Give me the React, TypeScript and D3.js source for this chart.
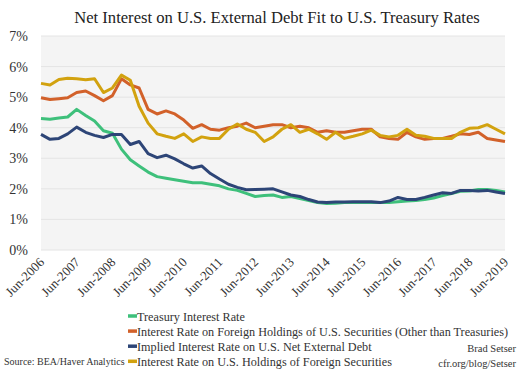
import * as d3 from "d3";
import { useRef, useEffect } from "react";

const quarters = [
  "2006-06", "2006-09", "2006-12", "2007-03", "2007-06", "2007-09", "2007-12", "2008-03",
  "2008-06", "2008-09", "2008-12", "2009-03", "2009-06", "2009-09", "2009-12", "2010-03",
  "2010-06", "2010-09", "2010-12", "2011-03", "2011-06", "2011-09", "2011-12", "2012-03",
  "2012-06", "2012-09", "2012-12", "2013-03", "2013-06", "2013-09", "2013-12", "2014-03",
  "2014-06", "2014-09", "2014-12", "2015-03", "2015-06", "2015-09", "2015-12", "2016-03",
  "2016-06", "2016-09", "2016-12", "2017-03", "2017-06", "2017-09", "2017-12", "2018-03",
  "2018-06", "2018-09", "2018-12", "2019-03", "2019-06",
];

const treasury = [
  4.3, 4.28, 4.32, 4.35, 4.6, 4.4, 4.22, 3.9, 3.82, 3.3, 2.95, 2.75, 2.55, 2.4, 2.35, 2.3,
  2.25, 2.2, 2.2, 2.15, 2.1, 2.0, 1.95, 1.85, 1.75, 1.78, 1.8, 1.72, 1.75, 1.68, 1.62, 1.55,
  1.52, 1.53, 1.55, 1.55, 1.55, 1.55, 1.55, 1.55, 1.58, 1.6, 1.62, 1.65, 1.7, 1.78, 1.85, 1.92,
  1.93, 1.98, 1.98, 1.95, 1.9,
];

const foreignHoldings = [
  4.98, 4.92, 4.95, 4.98, 5.15, 5.2, 5.05, 4.88, 5.05, 5.6, 5.4, 5.3, 4.6, 4.45, 4.55, 4.45,
  4.25, 3.98, 4.1, 3.95, 3.92, 4.0, 4.05, 4.15, 4.0, 4.05, 4.1, 4.1, 4.0, 4.05, 4.0, 3.85,
  3.9, 3.85, 3.85, 3.9, 3.95, 3.95, 3.7, 3.65, 3.62, 3.85, 3.7, 3.62, 3.65, 3.65, 3.72, 3.8,
  3.78, 3.85, 3.65, 3.6, 3.55,
];

const implied = [
  3.78, 3.62, 3.65, 3.8, 4.02, 3.85, 3.75, 3.68, 3.78, 3.78, 3.45, 3.55, 3.15, 3.02, 3.1, 2.98,
  2.82, 2.68, 2.75, 2.5, 2.32, 2.15, 2.05, 1.97, 1.98, 1.99, 2.0, 1.9, 1.8, 1.75, 1.65, 1.57,
  1.55, 1.57, 1.57, 1.58, 1.58, 1.58, 1.55, 1.6, 1.72, 1.65, 1.65, 1.72, 1.8, 1.87, 1.85, 1.95,
  1.95, 1.93, 1.95, 1.9, 1.85,
];

const usHoldings = [
  5.45, 5.4, 5.58, 5.62, 5.6, 5.57, 5.6, 5.15, 5.3, 5.72, 5.55, 4.7, 4.15, 3.8, 3.72, 3.65,
  3.8, 3.55, 3.7, 3.65, 3.65, 3.95, 4.12, 3.95, 3.85, 3.55, 3.7, 3.95, 4.1, 3.85, 3.95, 3.8,
  3.62, 3.85, 3.65, 3.72, 3.8, 3.92, 3.75, 3.7, 3.75, 3.95, 3.75, 3.72, 3.65, 3.65, 3.65, 3.85,
  3.98, 4.0, 4.1, 3.95, 3.8,
];

const seriesNames = [
  "Treasury Interest Rate",
  "Interest Rate on Foreign Holdings of U.S. Securities (Other than Treasuries)",
  "Implied Interest Rate on U.S. Net External Debt",
  "Interest Rate on U.S. Holdings of Foreign Securities",
];
const seriesColors = ["#3ec07b", "#d2612a", "#2d4577", "#d2a20f"];
// drawing order: later ones sit on top
const drawOrder = [0, 2, 1, 3];

const yTicks = [0, 1, 2, 3, 4, 5, 6, 7];
const xTickLabels = [
  "Jun-2006", "Jun-2007", "Jun-2008", "Jun-2009", "Jun-2010", "Jun-2011", "Jun-2012",
  "Jun-2013", "Jun-2014", "Jun-2015", "Jun-2016", "Jun-2017", "Jun-2018", "Jun-2019",
];

const serif = "'Liberation Serif', 'DejaVu Serif', serif";

const App = () => {
  const svgRef = useRef<SVGSVGElement | null>(null);

  useEffect(() => {
    const width = 520;
    const height = 374;
    const margin = { left: 41, right: 15, top: 36, bottom: 124 };
    const innerW = width - margin.left - margin.right;
    const innerH = height - margin.top - margin.bottom;

    const root = d3.select(svgRef.current);
    root.selectAll("*").remove();

    const parse = d3.timeParse("%Y-%m");
    const dates = quarters.map((q) => parse(q) as Date);
    const all = [treasury, foreignHoldings, implied, usHoldings];

    const x = d3.scaleTime()
      .domain([dates[0], dates[dates.length - 1]])
      .range([0, innerW]);
    const y = d3.scaleLinear().domain([0, 7]).range([innerH, 0]);

    root.append("text")
      .attr("x", 277)
      .attr("y", 23)
      .attr("text-anchor", "middle")
      .style("font-family", serif)
      .style("font-size", "16.6px")
      .attr("fill", "#222")
      .text("Net Interest on U.S. External Debt Fit to U.S. Treasury Rates");

    const g = root.append("g").attr("transform", `translate(${margin.left},${margin.top})`);

    g.append("rect")
      .attr("width", innerW)
      .attr("height", innerH)
      .attr("fill", "#f4f4f4");

    g.selectAll(".grid")
      .data(yTicks)
      .join("line")
      .attr("x1", 0)
      .attr("x2", innerW)
      .attr("y1", (d) => y(d))
      .attr("y2", (d) => y(d))
      .attr("stroke", "#e4e4e4")
      .attr("stroke-width", 1);

    g.selectAll(".ylab")
      .data(yTicks)
      .join("text")
      .attr("x", -13)
      .attr("y", (d) => y(d) + 5)
      .attr("text-anchor", "end")
      .style("font-family", serif)
      .style("font-size", "14px")
      .attr("fill", "#333")
      .text((d) => `${d}%`);

    const tickDates = xTickLabels.map((_, i) => dates[i * 4]);
    g.selectAll(".xlab")
      .data(tickDates)
      .join("text")
      .attr("transform", (d) => `translate(${x(d) + 4},${innerH + 13}) rotate(-45)`)
      .attr("text-anchor", "end")
      .style("font-family", serif)
      .style("font-size", "13px")
      .attr("fill", "#333")
      .text((_, i) => xTickLabels[i]);

    const line = d3.line<number>()
      .x((_, i) => x(dates[i]))
      .y((d) => y(d));

    drawOrder.forEach((k) => {
      g.append("path")
        .datum(all[k])
        .attr("fill", "none")
        .attr("stroke", seriesColors[k])
        .attr("stroke-width", 3)
        .attr("stroke-linejoin", "round")
        .attr("d", line);
    });

    const legend = root.append("g").attr("transform", "translate(128,316)");
    seriesNames.forEach((name, i) => {
      const row = legend.append("g").attr("transform", `translate(0,${i * 15.1})`);
      row.append("line")
        .attr("x1", 0)
        .attr("x2", 9)
        .attr("stroke", seriesColors[i])
        .attr("stroke-width", 3.5);
      row.append("text")
        .attr("x", 9)
        .attr("y", 4.5)
        .style("font-family", serif)
        .style("font-size", "12.2px")
        .attr("fill", "#333")
        .text(name);
    });

    root.append("text")
      .attr("x", 4)
      .attr("y", 365)
      .style("font-family", serif)
      .style("font-size", "10px")
      .attr("fill", "#333")
      .text("Source: BEA/Haver Analytics");

    root.append("text")
      .attr("x", 516)
      .attr("y", 352)
      .attr("text-anchor", "end")
      .style("font-family", serif)
      .style("font-size", "10.5px")
      .attr("fill", "#333")
      .text("Brad Setser");

    root.append("text")
      .attr("x", 516)
      .attr("y", 367)
      .attr("text-anchor", "end")
      .style("font-family", serif)
      .style("font-size", "10.5px")
      .attr("fill", "#333")
      .text("cfr.org/blog/Setser");
  }, []);

  return (
    <svg
      ref={svgRef}
      width={520}
      height={374}
      style={{ position: "absolute", left: 0, top: 0, background: "#fff" }}
    />
  );
};

export default App;
